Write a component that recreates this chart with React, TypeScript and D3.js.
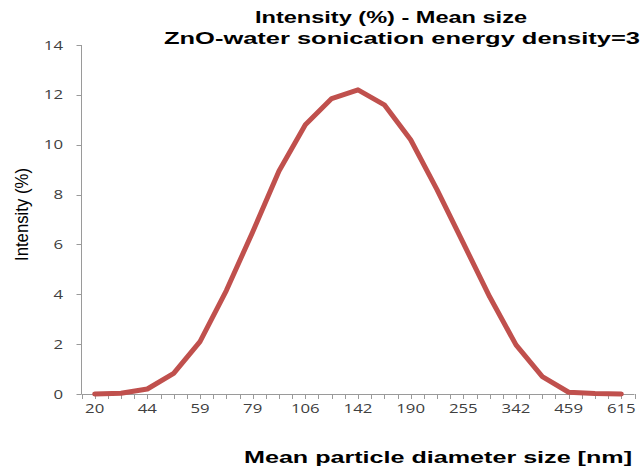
import React from "react";
import * as d3 from "d3";

const sizes = [20, 30, 44, 51, 59, 68, 79, 92, 106, 122, 142, 164, 190, 220, 255, 295, 342, 396, 459, 531, 615];
const intensity = [0, 0.03, 0.2, 0.83, 2.1, 4.15, 6.5, 8.95, 10.8, 11.85, 12.2, 11.6, 10.2, 8.2, 6.05, 3.9, 1.97, 0.7, 0.07, 0.02, 0];
const yTicks = [0, 2, 4, 6, 8, 10, 12, 14];
const titleLines = ["Intensity (%)  - Mean size", "ZnO-water sonication energy density=3"];
const xTitle = "Mean particle diameter size [nm]";
const yTitle = "Intensity (%)";

export default function App() {
  const W = 642, H = 468;
  const left = 81.5, right = 634.5, top = 45, bottom = 394;
  const n = sizes.length;
  const x = d3.scaleLinear().domain([-0.5, n - 0.5]).range([left, right]);
  const y = d3.scaleLinear().domain([0, 14]).range([bottom, top]);
  const line = d3.line<number>().x((_, i) => x(i)).y((d) => y(d));
  const halfTicks = d3.range(-0.5, n - 0.5 + 0.01, 0.5);
  const axisColor = "#9a9a9a";
  const tickFont = "'Open Sans', 'Liberation Sans', sans-serif";
  const digitW = 9.6;
  return (
    <svg width={W} height={H} style={{ position: "absolute", left: 0, top: 0, background: "#fff" }}>
      <g fontFamily="'Liberation Sans', Arial, sans-serif" fontWeight="bold" fill="#000" textAnchor="middle">
        <text x={391} y={23} fontSize={16} textLength={272} lengthAdjust="spacingAndGlyphs">{titleLines[0]}</text>
        <text x={402} y={44} fontSize={16} textLength={476} lengthAdjust="spacingAndGlyphs">{titleLines[1]}</text>
        <text x={438} y={463} fontSize={16} textLength={388} lengthAdjust="spacingAndGlyphs">{xTitle}</text>
      </g>
      <text
        transform={`translate(28,${y(7.2)}) rotate(-90)`}
        textAnchor="middle"
        fontFamily="'Liberation Sans Narrow', 'Arial Narrow', 'Liberation Sans', sans-serif"
        fontSize={18}
        textLength={93}
        lengthAdjust="spacingAndGlyphs"
        fill="#000"
      >
        {yTitle}
      </text>
      {/* y axis */}
      <line x1={left} x2={left} y1={top} y2={bottom} stroke={axisColor} strokeWidth={1} />
      {yTicks.map((t) => (
        <g key={t}>
          <line x1={left - 5} x2={left} y1={Math.round(y(t)) + 0.5} y2={Math.round(y(t)) + 0.5} stroke={axisColor} />
          <text
            x={63}
            y={y(t) + 4.5}
            textAnchor="end"
            fontSize={13}
            fontFamily={tickFont}
            fill="#404040"
            textLength={String(t).length * digitW}
            lengthAdjust="spacingAndGlyphs"
          >
            {t}
          </text>
        </g>
      ))}
      {/* x axis */}
      <line x1={left} x2={right} y1={bottom + 0.5} y2={bottom + 0.5} stroke={axisColor} />
      {halfTicks.map((t, k) => (
        <line key={k} x1={Math.round(x(t)) + 0.5} x2={Math.round(x(t)) + 0.5} y1={bottom} y2={bottom + 5} stroke={axisColor} />
      ))}
      {sizes.map((s, i) =>
        i % 2 === 0 ? (
          <text
            key={s}
            x={x(i)}
            y={bottom + 19}
            textAnchor="middle"
            fontSize={13}
            fontFamily={tickFont}
            fill="#404040"
            textLength={String(s).length * digitW}
            lengthAdjust="spacingAndGlyphs"
          >
            {s}
          </text>
        ) : null
      )}
      <path d={line(intensity) || ""} fill="none" stroke="#c0504d" strokeWidth={5} strokeLinejoin="round" strokeLinecap="round" />
    </svg>
  );
}
